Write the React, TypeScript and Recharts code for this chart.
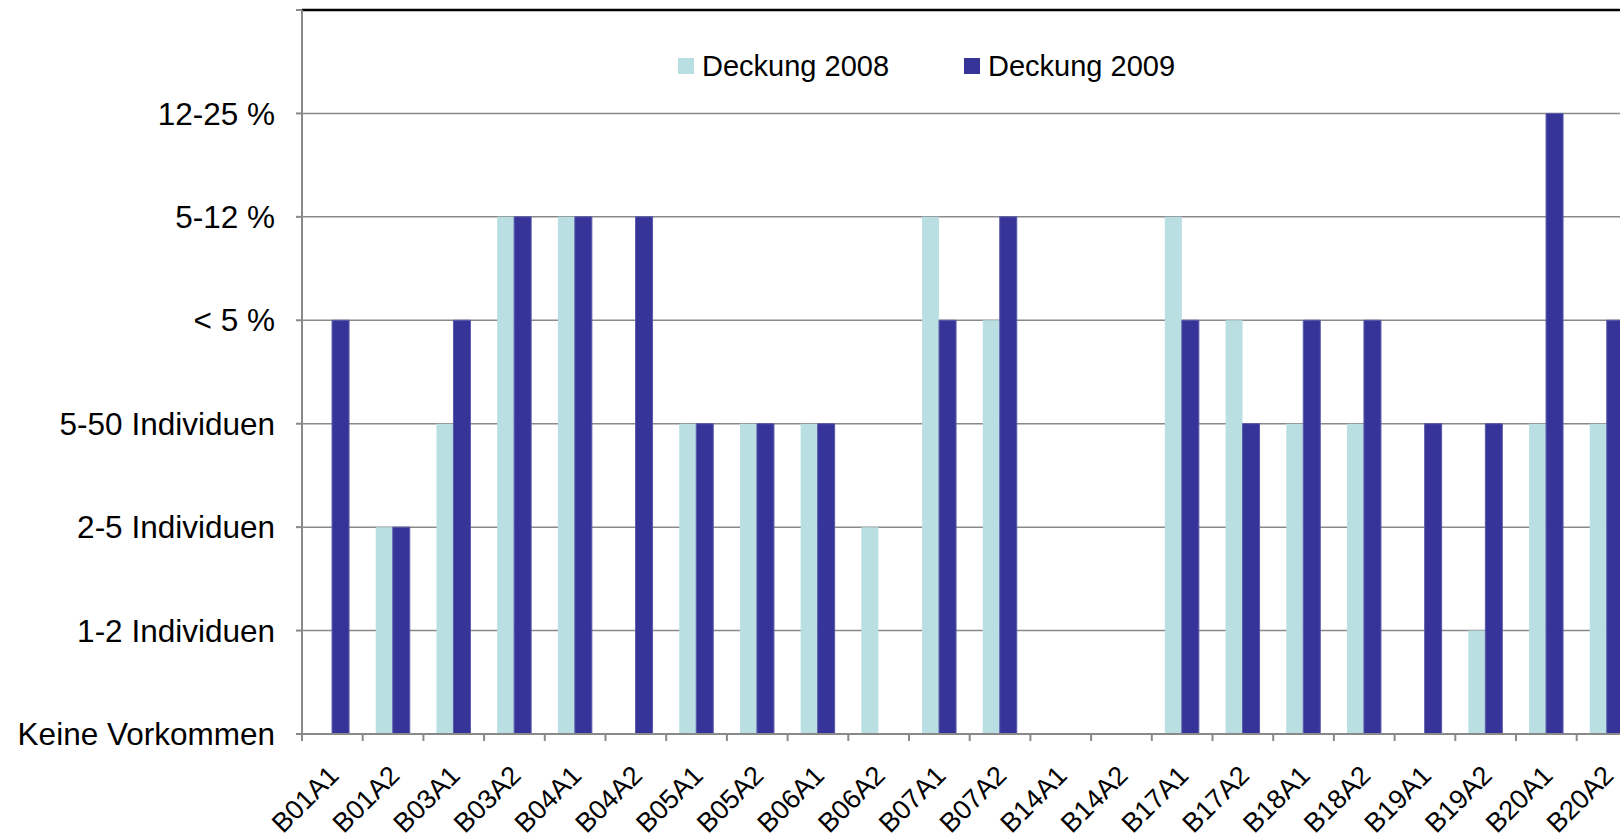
import React from 'react';
import { BarChart, Bar, XAxis, YAxis, CartesianGrid, Legend, ReferenceLine } from 'recharts';

// Sampling plots
const categories = [
  'B01A1', 'B01A2', 'B03A1', 'B03A2', 'B04A1', 'B04A2', 'B05A1', 'B05A2',
  'B06A1', 'B06A2', 'B07A1', 'B07A2', 'B14A1', 'B14A2', 'B17A1', 'B17A2',
  'B18A1', 'B18A2', 'B19A1', 'B19A2', 'B20A1', 'B20A2',
];

// Cover class per plot (index into levelLabels)
const cover2008 = [0, 2, 3, 5, 5, 0, 3, 3, 3, 2, 5, 4, 0, 0, 5, 4, 3, 3, 0, 1, 3, 3];
const cover2009 = [4, 2, 4, 5, 5, 5, 3, 3, 3, 0, 4, 5, 0, 0, 4, 3, 4, 4, 3, 3, 6, 4];

const levelLabels = [
  'Keine Vorkommen',
  '1-2 Individuen',
  '2-5 Individuen',
  '5-50 Individuen',
  '< 5 %',
  '5-12 %',
  '12-25 %',
  '',
];
const levelTicks = [0, 1, 2, 3, 4, 5, 6, 7];

const seriesNames = ['Deckung 2008', 'Deckung 2009'];
const seriesColors = ['#B9DFE3', '#363399'];

const data = categories.map((name, i) => ({
  name,
  y2008: cover2008[i],
  y2009: cover2009[i],
}));

// Layout
const FONT = '"Liberation Sans", Arial, sans-serif';
const CHART_W = 1660;
const CHART_H = 838;
const Y_AXIS_W = 302;
const X_AXIS_H = 104;
const MARGIN = { top: 10, right: 22.6, left: 0, bottom: 0 };
const PLOT_BOTTOM = CHART_H - MARGIN.bottom - X_AXIS_H;
const PLOT_W = CHART_W - MARGIN.left - MARGIN.right - Y_AXIS_W;
const BAND = PLOT_W / categories.length;
const AXIS_COLOR = '#898989';

const XTick = (props: any) => {
  const { x, payload } = props;
  const edge = x - BAND / 2;
  const tx = x + 8;
  const ty = PLOT_BOTTOM + 43;
  return (
    <g>
      <line x1={edge} x2={edge} y1={PLOT_BOTTOM} y2={PLOT_BOTTOM + 7} stroke={AXIS_COLOR} strokeWidth={2} />
      <text
        x={tx}
        y={ty}
        textAnchor="end"
        fontSize={27}
        fontFamily={FONT}
        fill="#000"
        transform={`rotate(-45 ${tx} ${ty})`}
      >
        {payload.value}
      </text>
    </g>
  );
};

const LegendContent = () => (
  <div style={{ display: 'flex', alignItems: 'center', fontFamily: FONT, fontSize: 29, color: '#000', lineHeight: '32px' }}>
    {seriesNames.map((n, i) => (
      <div key={n} style={{ display: 'flex', alignItems: 'center', marginRight: i === 0 ? 75 : 0 }}>
        <span style={{ display: 'inline-block', width: 16, height: 16, background: seriesColors[i], marginRight: 8 }} />
        <span>{n}</span>
      </div>
    ))}
  </div>
);

export default function App() {
  return (
    <div style={{ position: 'fixed', left: 0, top: 0, width: 1620, height: 838, overflow: 'hidden', background: '#fff' }}>
      <BarChart
        width={CHART_W}
        height={CHART_H}
        data={data}
        margin={MARGIN}
        barCategoryGap="21.5%"
        barGap={0}
      >
        <CartesianGrid vertical={false} stroke={AXIS_COLOR} strokeWidth={1.5} />
        <XAxis
          dataKey="name"
          height={X_AXIS_H}
          interval={0}
          axisLine={{ stroke: AXIS_COLOR, strokeWidth: 2 }}
          tickLine={false}
          tick={<XTick />}
        />
        <YAxis
          type="number"
          domain={[0, 7]}
          ticks={levelTicks}
          width={Y_AXIS_W}
          interval={0}
          tickFormatter={(v: number) => levelLabels[v]}
          axisLine={{ stroke: AXIS_COLOR, strokeWidth: 2 }}
          tickLine={{ stroke: AXIS_COLOR, strokeWidth: 2 }}
          tickSize={6}
          tickMargin={21}
          tick={{ fontSize: 31.5, fill: '#000', fontFamily: FONT }}
        />
        <ReferenceLine y={7} stroke="#000" strokeWidth={2.5} />
        <Legend
          verticalAlign="middle"
          align="center"
          content={<LegendContent />}
          wrapperStyle={{ position: 'absolute', top: 50, left: 678, width: 'auto' }}
        />
        <Bar dataKey="y2008" name={seriesNames[0]} fill={seriesColors[0]} isAnimationActive={false} />
        <Bar dataKey="y2009" name={seriesNames[1]} fill={seriesColors[1]} stroke="#5a59a8" strokeWidth={1} isAnimationActive={false} />
      </BarChart>
    </div>
  );
}
